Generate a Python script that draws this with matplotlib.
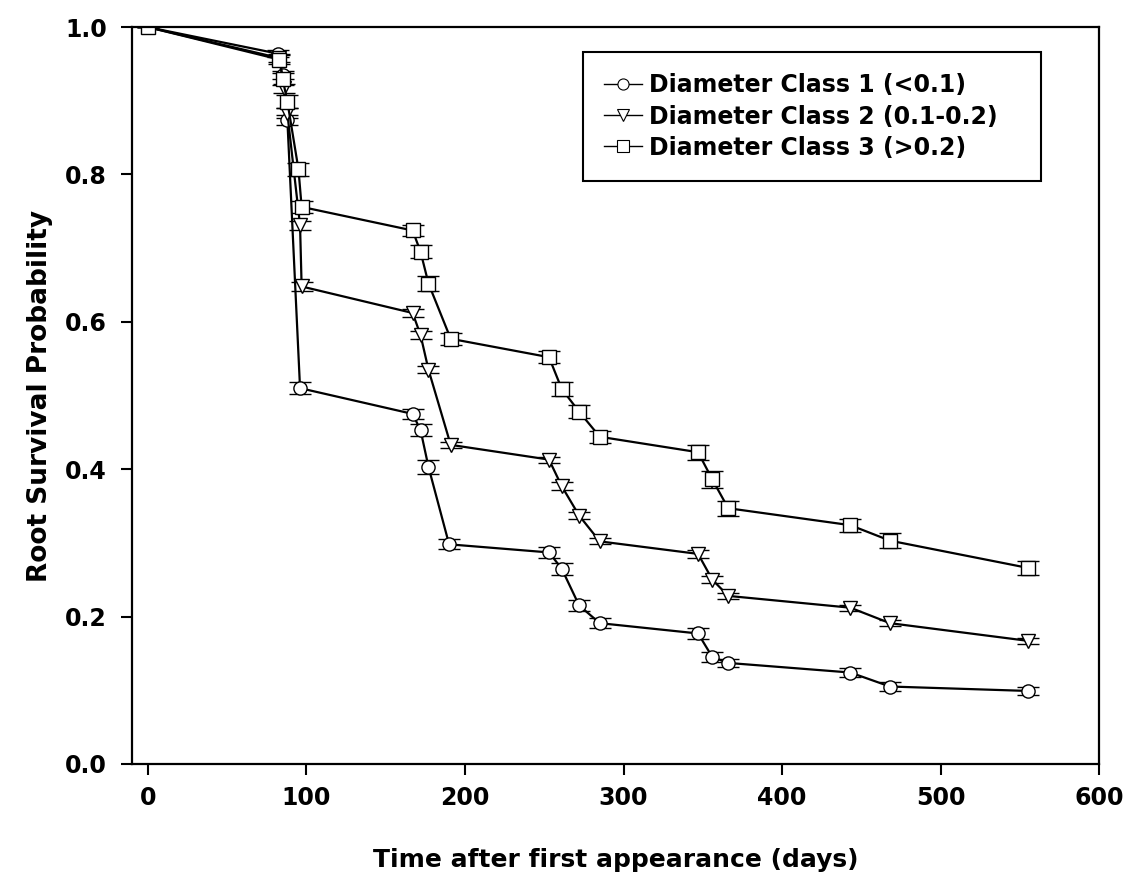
import matplotlib
matplotlib.use("Agg")
import matplotlib.pyplot as plt
from matplotlib.lines import Line2D

plt.rcParams['font.family'] = ['DejaVu Sans']
plt.rcParams['font.weight'] = 'bold'

# --- data ---
days_c1 = [0, 82, 85, 88, 96, 167, 172, 177, 190, 253, 261, 272, 285, 347, 356, 366, 443, 468, 555]
surv_c1 = [1.0, 0.964, 0.935, 0.874, 0.510, 0.475, 0.453, 0.403, 0.298, 0.287, 0.265, 0.215,
           0.191, 0.177, 0.145, 0.137, 0.124, 0.105, 0.099]
err_c1 = [0.0, 0.005, 0.006, 0.007, 0.008, 0.007, 0.008, 0.009, 0.007, 0.007, 0.008, 0.008,
          0.007, 0.008, 0.007, 0.006, 0.006, 0.006, 0.006]

days_c2 = [0, 83, 86, 88, 96, 97, 167, 172, 177, 191, 253, 261, 272, 285, 347, 356, 366, 443, 468, 555]
surv_c2 = [1.0, 0.958, 0.917, 0.883, 0.731, 0.648, 0.612, 0.582, 0.535, 0.433, 0.413, 0.377,
           0.337, 0.302, 0.285, 0.250, 0.228, 0.212, 0.191, 0.167]
err_c2 = [0.0, 0.005, 0.006, 0.007, 0.006, 0.006, 0.005, 0.005, 0.005, 0.004, 0.004, 0.005,
          0.005, 0.004, 0.005, 0.005, 0.004, 0.004, 0.004, 0.004]

days_c3 = [0, 83, 85, 88, 95, 97, 167, 172, 177, 191, 253, 261, 272, 285, 347, 356, 366, 443, 468, 555]
surv_c3 = [1.0, 0.956, 0.930, 0.899, 0.807, 0.756, 0.724, 0.695, 0.652, 0.577, 0.552, 0.509,
           0.478, 0.444, 0.423, 0.386, 0.347, 0.324, 0.303, 0.266]
err_c3 = [0.0, 0.006, 0.008, 0.009, 0.009, 0.008, 0.008, 0.009, 0.010, 0.008, 0.008, 0.010,
          0.009, 0.008, 0.010, 0.011, 0.010, 0.009, 0.010, 0.010]

labels = ['Diameter Class 1 (<0.1)', 'Diameter Class 2 (0.1-0.2)', 'Diameter Class 3 (>0.2)']
markers = ['o', 'v', 's']

fig = plt.figure(figsize=(11.24, 8.75), dpi=100)
ax = fig.add_axes([0.1174, 0.127, 0.8606, 0.842])

series = [(days_c1, surv_c1, err_c1), (days_c2, surv_c2, err_c2), (days_c3, surv_c3, err_c3)]
for (d, s, e), m in zip(series, markers):
    ms = 10 if m == 'v' else 9.5
    ax.errorbar(d, s, yerr=e, fmt='-' + m, color='black', lw=1.6, mfc='white', mec='black',
                mew=1.0, ms=ms, ecolor='black', elinewidth=1.2, capsize=8, capthick=2.2)

ax.set_xlim(-10, 600)
ax.set_ylim(0, 1.0)
ax.set_xticks([0, 100, 200, 300, 400, 500, 600])
ax.set_yticks([0.0, 0.2, 0.4, 0.6, 0.8, 1.0])
ax.set_yticklabels(['0.0', '0.2', '0.4', '0.6', '0.8', '1.0'])
ax.tick_params(direction='out', length=8, width=1.5, labelsize=17)
ax.tick_params(axis='y', pad=10)
ax.tick_params(axis='x', pad=8)
for sp in ax.spines.values():
    sp.set_linewidth(1.6)

ax.set_xlabel('Time after first appearance (days)', fontsize=18, fontweight='bold', labelpad=27)
ax.set_ylabel('Root Survival Probability', fontsize=19, fontweight='bold', labelpad=9)

handles = [Line2D([], [], color='black', lw=1.0, marker=m, ms=8, mfc='white', mec='black', mew=0.8)
           for m in markers]
leg = ax.legend(handles, labels, loc='upper left', bbox_to_anchor=(0.4664, 0.5, 0.4736, 0.466),
                mode='expand', fontsize=17, frameon=True, fancybox=False, edgecolor='black',
                framealpha=1, handlelength=1.6, handletextpad=0.3, labelspacing=0.3,
                borderpad=0.9, borderaxespad=0)
leg.get_frame().set_linewidth(1.5)

fig.savefig('out.png', dpi=100)
